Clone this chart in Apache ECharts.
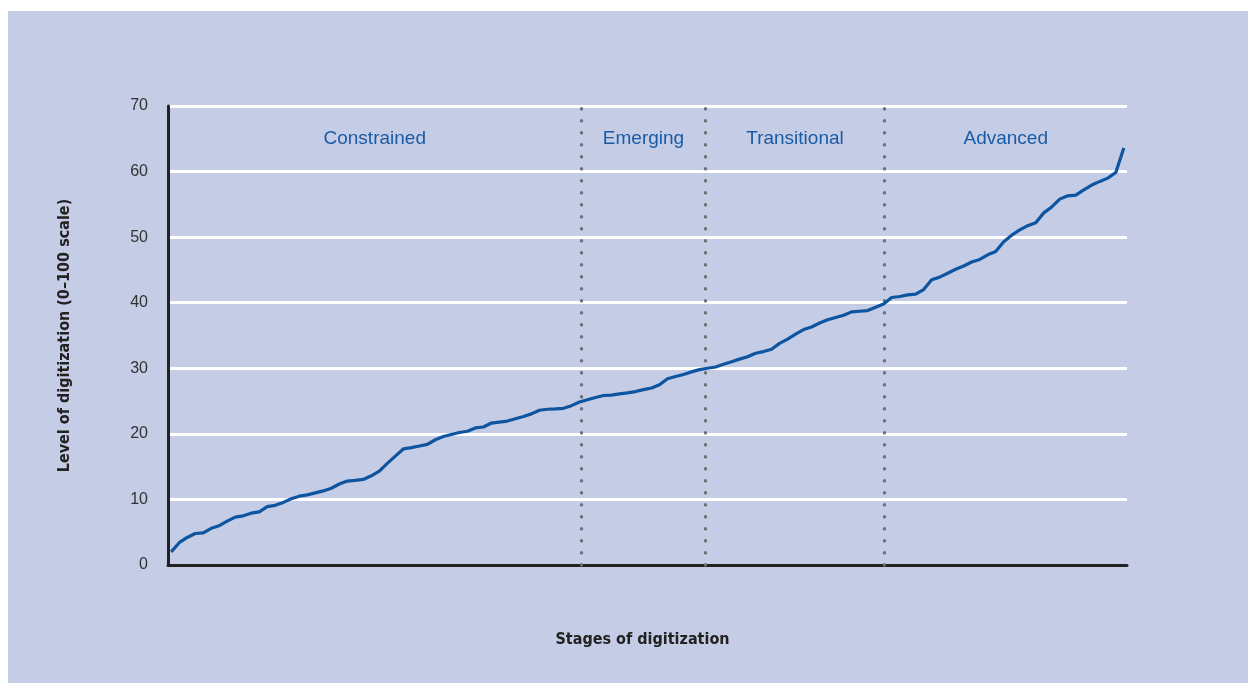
<!DOCTYPE html>
<html>
<head>
<meta charset="utf-8">
<script src="https://cdn.jsdelivr.net/npm/echarts@6/dist/echarts.min.js"></script>
<style>
html,body{margin:0;padding:0;background:#fff;}
#chart{width:1248px;height:683px;}
</style>
</head>
<body>
<div id="chart"></div>
<script>
// Level of digitization by country rank (sorted ascending)
const levels = [
  2.0, 3.4, 4.2, 4.8, 4.9, 5.6, 6.0, 6.7, 7.3, 7.5,
  7.9, 8.1, 8.9, 9.1, 9.55, 10.1, 10.5, 10.7, 11.0, 11.3,
  11.7, 12.35, 12.8, 12.9, 13.05, 13.6, 14.3, 15.5, 16.6, 17.7,
  17.9, 18.15, 18.4, 19.1, 19.6, 19.9, 20.2, 20.4, 20.9, 21.05,
  21.65, 21.8, 21.95, 22.3, 22.65, 23.05, 23.6, 23.75, 23.8, 23.9,
  24.3, 24.85, 25.2, 25.55, 25.85, 25.9, 26.1, 26.25, 26.45, 26.75,
  27.0, 27.5, 28.4, 28.75, 29.05, 29.45, 29.8, 30.0, 30.2, 30.6,
  31.0, 31.4, 31.75, 32.3, 32.55, 32.9, 33.8, 34.45, 35.2, 35.9,
  36.3, 36.9, 37.4, 37.75, 38.1, 38.6, 38.7, 38.8, 39.3, 39.8,
  40.8, 40.95, 41.2, 41.3, 42.0, 43.5, 43.9, 44.5, 45.1, 45.6,
  46.2, 46.6, 47.3, 47.8, 49.3, 50.3, 51.1, 51.75, 52.2, 53.7,
  54.6, 55.8, 56.3, 56.4, 57.2, 57.95, 58.5, 59.0, 59.85, 63.6
];
// Stage boundaries (in country-rank units) and stage names
const stageBounds = [51.25, 66.75, 89.1];
const stageNames = ['Constrained', 'Emerging', 'Transitional', 'Advanced'];
const yTicks = [0, 10, 20, 30, 40, 50, 60, 70];
const yTitle = 'Level of digitization (0\u2013100 scale)';
const xTitle = 'Stages of digitization';

const n = levels.length;
const xMin = -0.4, xMax = n - 1 + 0.4;
const edges = [xMin].concat(stageBounds, [xMax]);
const areas = stageNames.map((name, i) => [
  { name: name, xAxis: edges[i] }, { xAxis: edges[i + 1] }
]);
const condensed = "'Liberation Sans Narrow', 'DejaVu Sans Condensed', 'Roboto Condensed', 'Liberation Sans', sans-serif";

const chart = echarts.init(document.getElementById('chart'));
chart.setOption({
  backgroundColor: '#ffffff',
  animation: false,
  graphic: [{
    type: 'rect', z: -100, silent: true,
    shape: { x: 8, y: 11, width: 1240, height: 672 },
    style: { fill: '#c5cce5' }
  }],
  grid: { left: 168, right: 121, top: 106, bottom: 118 },
  xAxis: {
    type: 'value', min: xMin, max: xMax,
    name: xTitle, nameLocation: 'middle', nameGap: 67,
    nameTextStyle: { fontFamily: condensed, fontSize: 16, fontWeight: 'bold', color: '#222', padding: [0, 10, 0, 0] },
    axisLine: { show: true, onZero: false, lineStyle: { color: '#222', width: 3 } },
    axisTick: { show: false }, axisLabel: { show: false }, splitLine: { show: false }
  },
  yAxis: {
    type: 'value', min: 0, max: 70, interval: 10,
    name: yTitle, nameLocation: 'middle', nameGap: 95, nameRotate: 90,
    nameTextStyle: { fontFamily: condensed, fontSize: 16, fontWeight: 'bold', color: '#222' },
    axisLine: { show: true, onZero: false, lineStyle: { color: '#222', width: 3 } },
    axisTick: { show: false },
    axisLabel: {
      margin: 20, fontFamily: 'Liberation Sans', fontSize: 16, color: '#333',
      formatter: v => yTicks.includes(v) ? String(v) : ''
    },
    splitLine: { show: true, lineStyle: { color: '#ffffff', width: 3 } }
  },
  series: [{
    type: 'line',
    data: levels.map((v, i) => [i, v]),
    showSymbol: false,
    lineStyle: { color: '#0d55a0', width: 3.2, join: 'round' },
    z: 5,
    markLine: {
      silent: true, symbol: 'none', label: { show: false },
      lineStyle: { color: '#6e6e72', width: 3.2, type: [0.5, 11.5], cap: 'round' },
      data: stageBounds.map(b => ({ xAxis: b }))
    },
    markArea: {
      silent: true,
      itemStyle: { color: 'rgba(0,0,0,0)' },
      label: {
        show: true, position: 'insideTop', distance: 23,
        fontFamily: 'Liberation Sans', fontSize: 19, color: '#1a5ba6'
      },
      data: areas
    }
  }]
});
</script>
</body>
</html>
